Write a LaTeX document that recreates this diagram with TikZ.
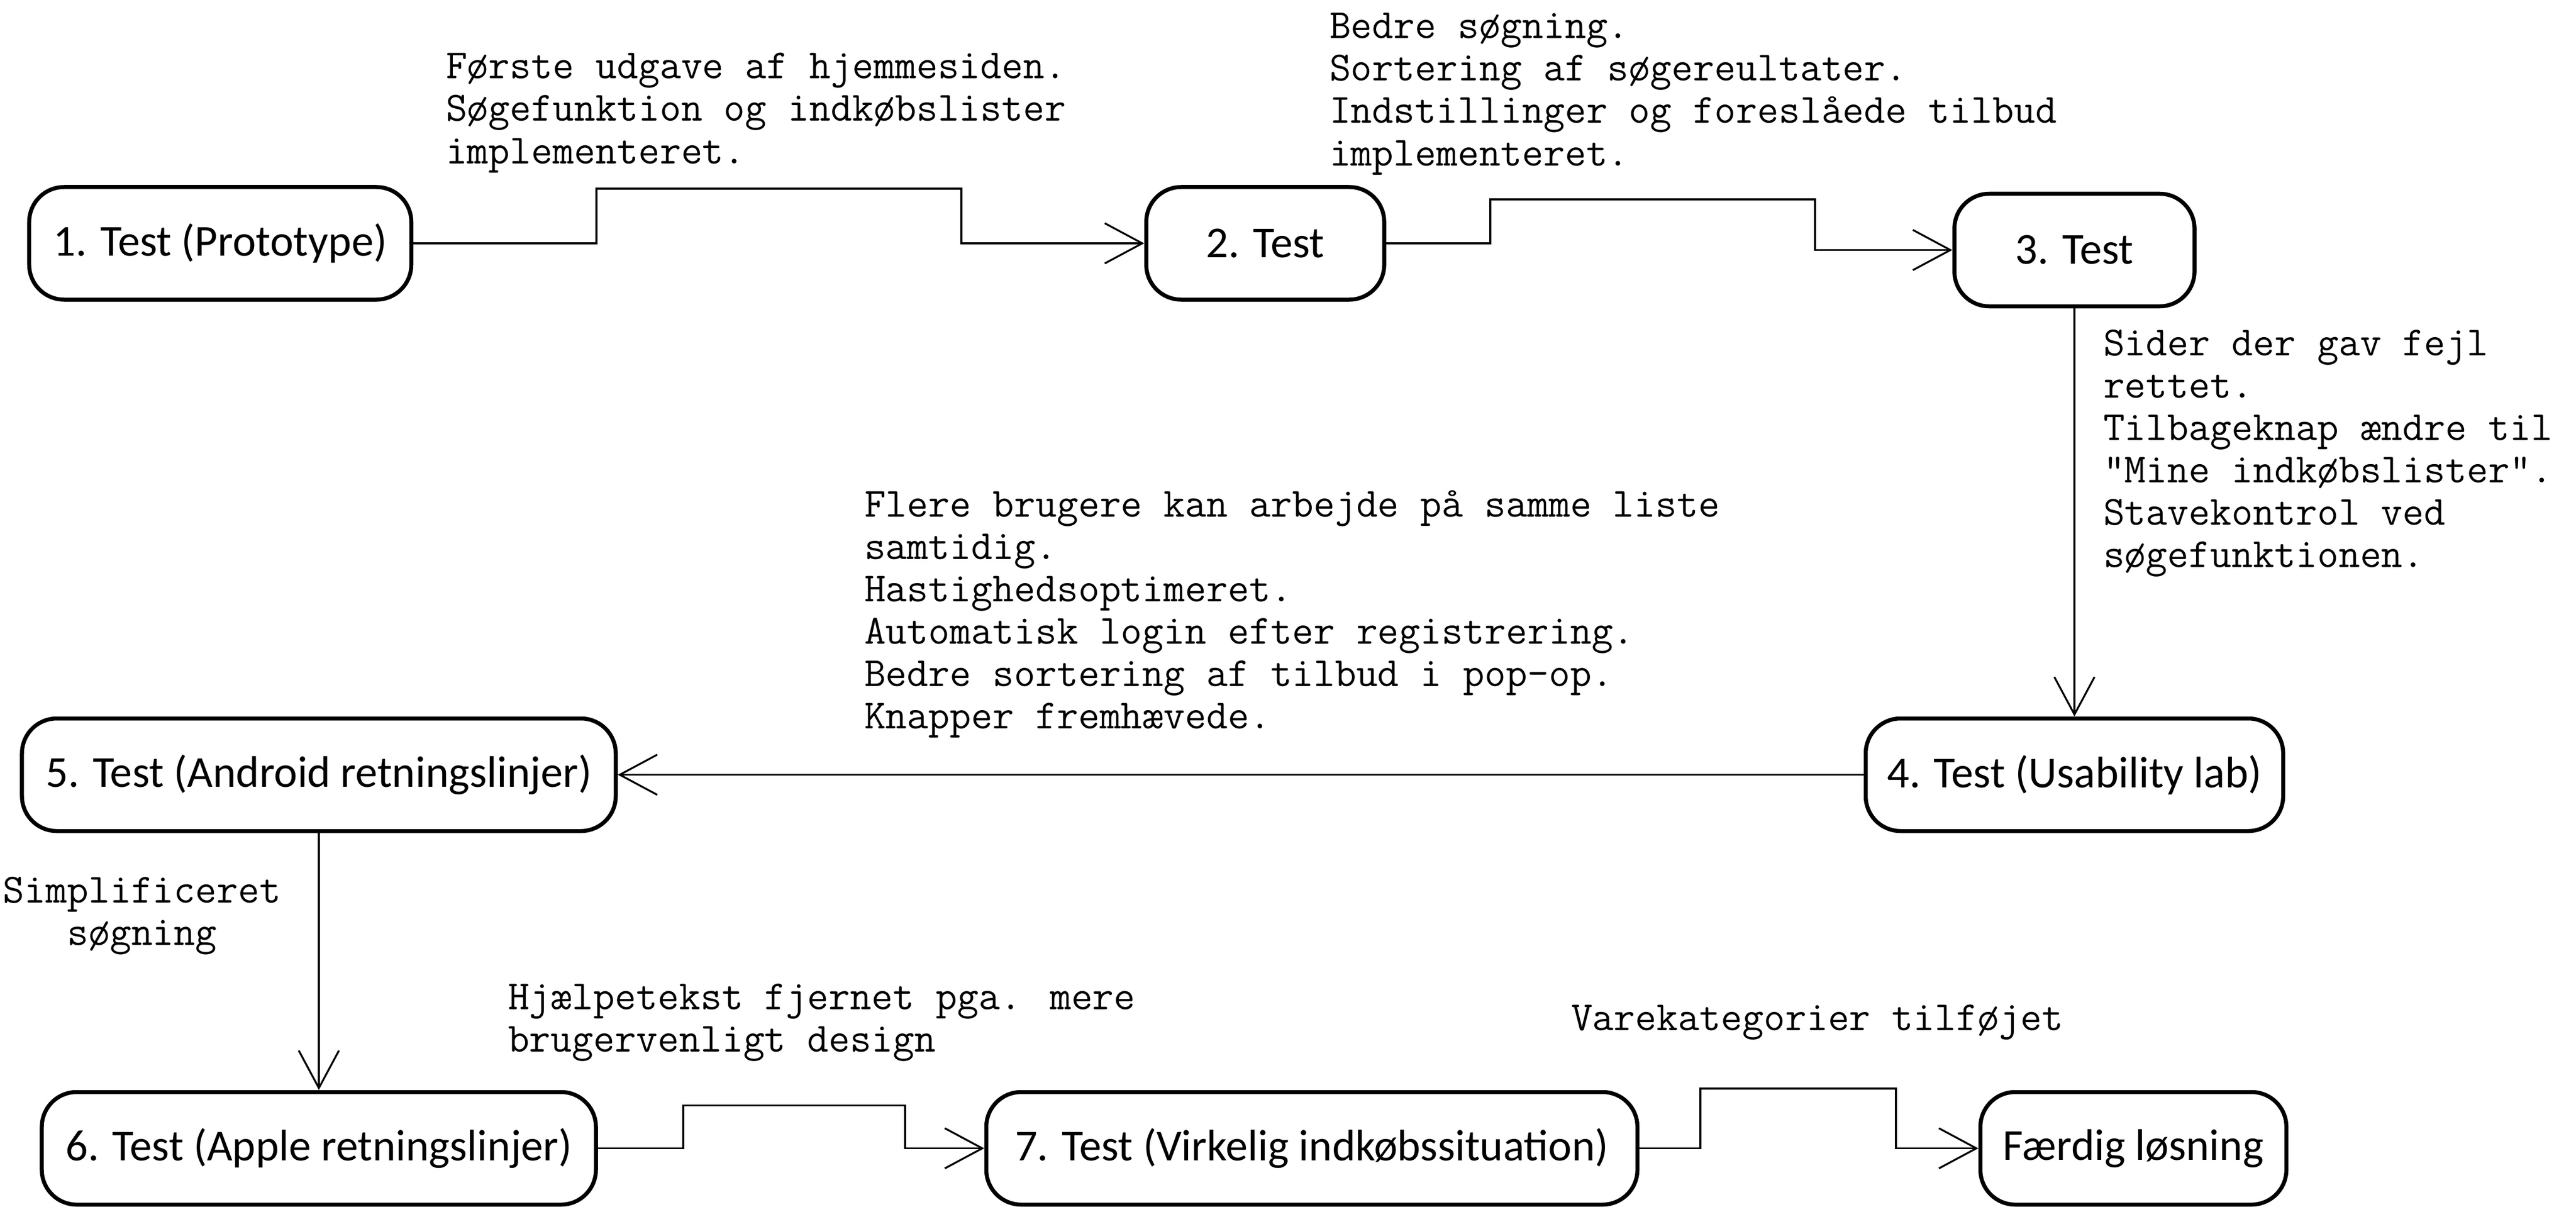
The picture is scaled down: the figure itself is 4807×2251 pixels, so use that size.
\documentclass[tikz,border=0pt]{standalone}
\usepackage{fontspec}
\setmainfont{Carlito}
\usetikzlibrary{arrows.meta}
\begin{document}
\begin{tikzpicture}[
		x = 0.2pt, y = -0.2pt,
		stage/.style = { draw, line width = 1.5pt, rounded corners = 13pt, minimum height = 42pt, inner sep = 0pt, font = \fontsize{16.5}{19}\selectfont },
		note/.style = { anchor = base west, align = left, inner sep = 0pt, font = \ttfamily\fontsize{15.5}{15.8}\selectfont },
		flow/.style = { draw, line width = 0.7pt, -{Straight Barb[length = 14pt, width = 15pt]} }
	]
	\useasboundingbox (0,0) rectangle (4807,2251);
	\node [stage, minimum width = 142.6pt] (t1) at (411,454) { 1. Test (Prototype) };
	\node [stage, minimum width = 88.8pt] (t2) at (2361,454) { 2. Test };
	\node [stage, minimum width = 89.6pt] (t3) at (3871,466.5) { 3. Test };
	\node [stage, minimum width = 155.8pt] (t4) at (3871,1445.5) { 4. Test (Usability lab) };
	\node [stage, minimum width = 221.6pt] (t5) at (595,1445.5) { 5. Test (Android retningslinjer) };
	\node [stage, minimum width = 206.8pt] (t6) at (595,2142.5) { 6. Test (Apple retningslinjer) };
	\node [stage, minimum width = 243pt] (t7) at (2448,2142.5) { 7. Test (Virkelig indkøbssituation) };
	\node [stage, minimum width = 114.2pt] (done) at (3981,2142.5) { Færdig løsning };
	\draw [flow] (t1.east) -| (1113,352) -| (1794,454) -- (t2.west);
	\draw [flow] (t2.east) -| (2781,372) -| (3387,466.5) -- (t3.west);
	\draw [flow] (t3.south) -- (t4.north);
	\draw [flow] (t4.west) -- (t5.east);
	\draw [flow] (t5.south) -- (t6.north);
	\draw [flow] (t6.east) -| (1275,2062.5) -| (1689,2142.5) -- (t7.west);
	\draw [flow] (t7.east) -| (3173,2031) -| (3538,2142.5) -- (done.west);
	\node [note] (n12) at (831,305) { Første udgave af hjemmesiden.\\Søgefunktion og indkøbslister\\implementeret. };
	\node [note] (n23) at (2480,309) { Bedre søgning.\\Sortering af søgereultater.\\Indstillinger og foreslåede tilbud\\implementeret. };
	\node [note] (n34) at (3924,1058) { Sider der gav fejl\\rettet.\\Tilbageknap ændre til\\"Mine indkøbslister".\\Stavekontrol ved\\søgefunktionen. };
	\node [note] (n45) at (1612,1359) { Flere brugere kan arbejde på samme liste\\samtidig.\\Hastighedsoptimeret.\\Automatisk login efter registrering.\\Bedre sortering af tilbud i pop-op.\\Knapper fremhævede. };
	\node [note, anchor = base, align = center] (n56) at (265,1763) { Simplificeret\\søgning };
	\node [note] (n67) at (947,1962) { Hjælpetekst fjernet pga. mere\\brugervenligt design };
	\node [note] (n78) at (2931,1922) { Varekategorier tilføjet };
\end{tikzpicture}
\end{document}
